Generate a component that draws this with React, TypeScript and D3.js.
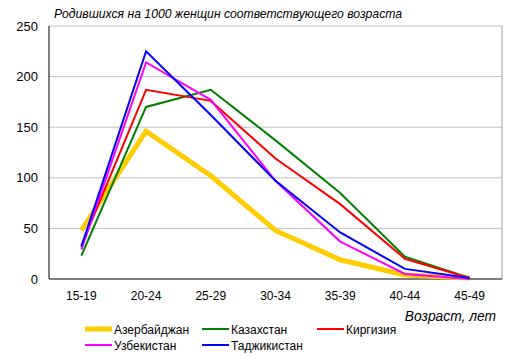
import React from "react";
import * as d3 from "d3";

const categories = ["15-19", "20-24", "25-29", "30-34", "35-39", "40-44", "45-49"];
const yTicks = [0, 50, 100, 150, 200, 250];

const azerbaijan = [48, 146, 102, 48, 19, 4, 1];
const kazakhstan = [23, 170, 187, 137, 85, 22, 1];
const kirgizia = [33, 187, 176, 119, 74, 20, 1];
const uzbekistan = [29, 214, 177, 97, 37, 5, 0];
const tajikistan = [32, 225, 162, 97, 46, 10, 1];

const series = [
  { name: "Азербайджан", values: azerbaijan, color: "#ffcc00", width: 5 },
  { name: "Казахстан", values: kazakhstan, color: "#008000", width: 2 },
  { name: "Киргизия", values: kirgizia, color: "#ff0000", width: 2 },
  { name: "Узбекистан", values: uzbekistan, color: "#ff00ff", width: 2 },
  { name: "Таджикистан", values: tajikistan, color: "#0000ff", width: 2 },
];

const W = 515, H = 357;
const M = { left: 49, right: 502, top: 26, bottom: 279 };

export default function App() {
  const x = d3.scaleBand<string>().domain(categories).range([M.left, M.right]);
  const y = d3.scaleLinear().domain([0, 250]).range([M.bottom, M.top]);
  const line = d3.line<number>()
    .x((_, i) => (x(categories[i]) as number) + x.bandwidth() / 2)
    .y((d) => y(d));
  const font = "'Liberation Sans', Arial, sans-serif";
  const legendPos = [
    { lx: 85, ly: 329 },
    { lx: 202, ly: 329 },
    { lx: 317, ly: 329 },
    { lx: 85, ly: 345 },
    { lx: 202, ly: 345 },
  ];
  return (
    <svg width={W} height={H} style={{ position: "absolute", left: 0, top: 0 }} fontFamily={font}>
      <rect width={W} height={H} fill="#fff" />
      <text x={54} y={18} fontSize={12.2} fontStyle="italic" fill="#000">
        Родившихся на 1000 женщин соответствующего возраста
      </text>
      {yTicks.map((t) => (
        <g key={t}>
          {t > 0 && (
            <line x1={M.left} x2={M.right} y1={y(t)} y2={y(t)} stroke="#c0c0c0" strokeWidth={1} />
          )}
          <text x={38} y={y(t) + 4.5} fontSize={13} textAnchor="end" fill="#000">
            {t}
          </text>
        </g>
      ))}
      <line x1={M.right} x2={M.right} y1={M.top} y2={M.bottom} stroke="#a0a0a0" />
      <line x1={M.left} x2={M.left} y1={M.top} y2={M.bottom} stroke="#000" />
      <line x1={M.left} x2={M.right} y1={M.bottom} y2={M.bottom} stroke="#000" />
      {categories.map((c) => (
        <text key={c} x={(x(c) as number) + x.bandwidth() / 2} y={300} fontSize={12} textAnchor="middle" fill="#000">
          {c}
        </text>
      ))}
      {series.map((s) => (
        <path key={s.name} d={line(s.values) || ""} fill="none" stroke={s.color} strokeWidth={s.width} strokeLinejoin="miter" />
      ))}
      <text x={496} y={321} fontSize={13.8} fontStyle="italic" textAnchor="end" fill="#000">
        Возраст, лет
      </text>
      {series.map((s, i) => (
        <g key={s.name}>
          <line x1={legendPos[i].lx} x2={legendPos[i].lx + 27} y1={legendPos[i].ly} y2={legendPos[i].ly} stroke={s.color} strokeWidth={s.width} />
          <text x={legendPos[i].lx + 29} y={legendPos[i].ly + 4.5} fontSize={12} fill="#000">
            {s.name}
          </text>
        </g>
      ))}
    </svg>
  );
}
